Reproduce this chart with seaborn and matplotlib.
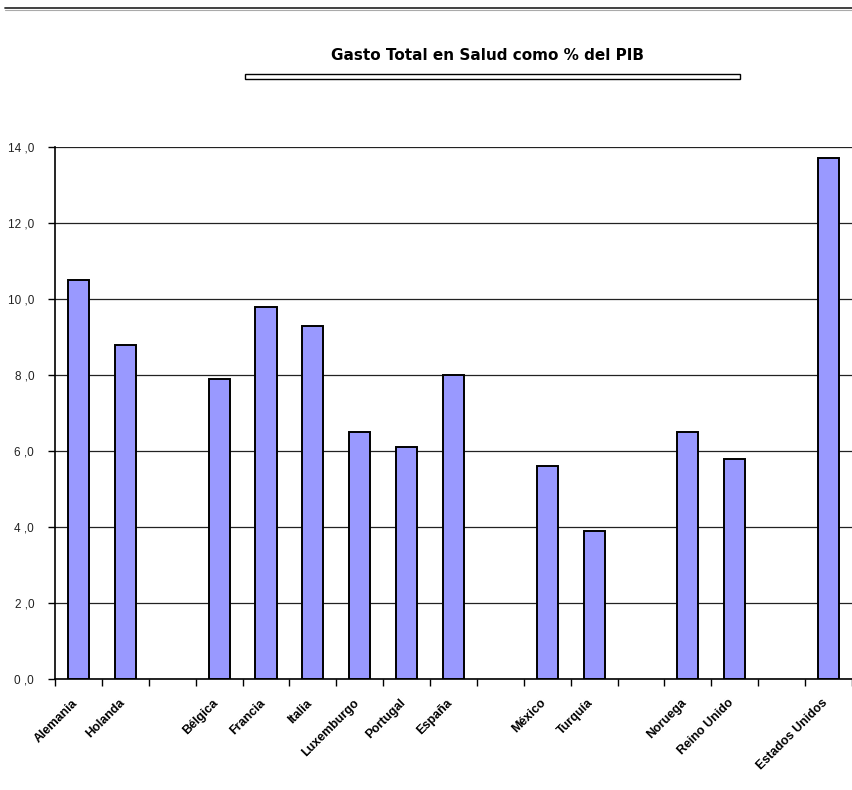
import matplotlib
matplotlib.use("Agg")
import matplotlib.pyplot as plt
from matplotlib.patches import Rectangle
from matplotlib.lines import Line2D
import seaborn as sns
import pandas as pd

# Health spending as share of GDP, by country (groups separated by empty slots)
countries = ["Alemania", "Holanda", "Bélgica", "Francia", "Italia", "Luxemburgo",
             "Portugal", "España", "México", "Turquía", "Noruega", "Reino Unido",
             "Estados Unidos"]
gasto = [10.5, 8.8, 7.9, 9.8, 9.3, 6.5, 6.1, 8.0, 5.6, 3.9, 6.5, 5.8, 13.7]

# Slot order along the x axis; entries starting with "_" are empty spacer slots
slots = ["Alemania", "Holanda", "_s1", "Bélgica", "Francia", "Italia", "Luxemburgo",
         "Portugal", "España", "_s2", "México", "Turquía", "_s3", "Noruega",
         "Reino Unido", "_s4", "Estados Unidos"]
y_ticks = [0, 2, 4, 6, 8, 10, 12, 14]
title = "Gasto Total en Salud como % del PIB"

df = pd.DataFrame({"pais": countries, "gasto": gasto})

sns.set_theme(style="white")
plt.rcParams["font.family"] = ["Liberation Sans", "DejaVu Sans"]

fig = plt.figure(figsize=(8.53, 7.90), dpi=100)
ax = fig.add_axes([55 / 853, 111 / 790, 797 / 853, 532 / 790])

sns.barplot(data=df, x="pais", y="gasto", order=slots, color="#9999FF",
            saturation=1, width=0.45, edgecolor="black", linewidth=1.4, ax=ax)

ax.set_ylim(0, 14)
ax.set_xlim(-0.5, len(slots) - 0.5)
ax.set_yticks(y_ticks)
ax.set_yticklabels([f"{v:.0f} ,0" for v in y_ticks],
                   fontsize=8.5, color="#222222")
ax.yaxis.grid(True, color="#222222", linewidth=0.9)
ax.set_axisbelow(True)

# Category labels sit just left of each bar centre (rotated text ends under the bar)
ax.set_xticks([i - 0.15 for i in range(len(slots))])
ax.set_xticklabels(["" if s.startswith("_") else s for s in slots],
                   rotation=45, ha="right", va="top", rotation_mode="anchor",
                   fontsize=9, fontweight="bold", color="black")
ax.tick_params(axis="x", which="major", length=0, pad=13)
# Tick marks at slot boundaries
ax.set_xticks([i - 0.5 for i in range(len(slots) + 1)], minor=True)
ax.tick_params(axis="x", which="minor", length=5, width=1, color="black",
               direction="out", bottom=True)
ax.tick_params(axis="y", length=5, width=1, color="black", direction="out",
               left=True, pad=10)

ax.set_xlabel("")
ax.set_ylabel("")
for side in ["top", "right"]:
    ax.spines[side].set_visible(False)
for side in ["left", "bottom"]:
    ax.spines[side].set_color("black")
    ax.spines[side].set_linewidth(1.2)

# Chart title with its underline box
fig.text(488 / 853, (790 - 55) / 790, title, ha="center", va="center",
         fontsize=11, fontweight="bold", color="black", family="DejaVu Sans")
fig.add_artist(Rectangle((245 / 853, (790 - 79) / 790), 495 / 853, 5 / 790,
                         transform=fig.transFigure, facecolor="white",
                         edgecolor="black", linewidth=1))

# Rule across the top of the page
fig.add_artist(Line2D([5 / 853, 1], [(790 - 8) / 790] * 2, transform=fig.transFigure,
                      color="#333333", linewidth=1.3))
fig.add_artist(Line2D([5 / 853, 1], [(790 - 9.6) / 790] * 2, transform=fig.transFigure,
                      color="#aaaaaa", linewidth=0.8))

fig.savefig("out.png", dpi=100, facecolor="white")
